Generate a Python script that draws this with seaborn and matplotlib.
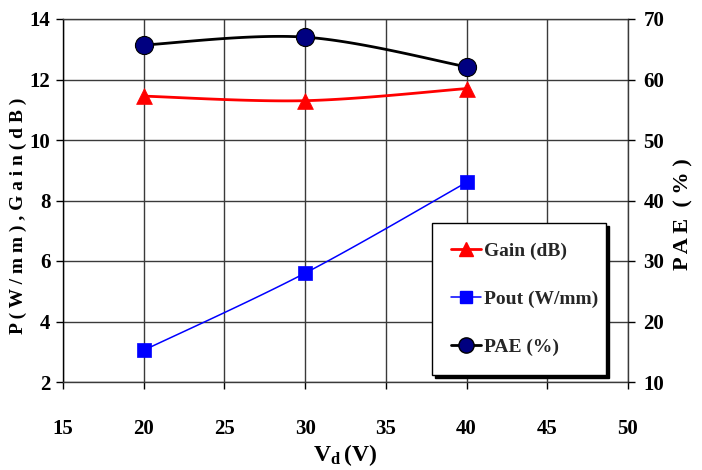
import numpy as np
import pandas as pd
import matplotlib
matplotlib.use("Agg")
import matplotlib.pyplot as plt
from matplotlib.lines import Line2D
import seaborn as sns

vd = [20, 30, 40]
gain_db = [11.45, 11.3, 11.7]
pout_wmm = [3.05, 5.6, 8.6]
pae_pct = [65.7, 67.0, 62.1]

x_ticks = [15, 20, 25, 30, 35, 40, 45, 50]
left_ticks = [2, 4, 6, 8, 10, 12, 14]
right_ticks = [10, 20, 30, 40, 50, 60, 70]

sns.set_theme(style="white")
plt.rcParams['font.family'] = ['Liberation Serif', 'DejaVu Serif']
plt.rcParams['font.weight'] = 'bold'
plt.rcParams['mathtext.fontset'] = 'custom'
plt.rcParams['mathtext.rm'] = 'Liberation Serif:bold'
plt.rcParams['mathtext.it'] = 'Liberation Serif:bold'
plt.rcParams['mathtext.bf'] = 'Liberation Serif:bold'

df = pd.DataFrame({"Vd": vd, "Gain": gain_db, "Pout": pout_wmm, "PAE": pae_pct})

fig = plt.figure(figsize=(7.02, 4.70), dpi=100)
ax = fig.add_axes([63/702, 88/470, 565/702, 363/470])
ax2 = ax.twinx()

XL = (15, 50)
YL = (2, 14)
YR = (10, 70)
GRID = '#3a3a3a'


def smooth(xs, ys, xlim, ylim, n=40):
    # Bezier smoothing in normalized coordinates (spreadsheet style)
    px = (np.asarray(xs, float) - xlim[0]) / (xlim[1] - xlim[0])
    py = (np.asarray(ys, float) - ylim[0]) / (ylim[1] - ylim[0])
    P = np.column_stack([px, py])
    out = []
    m = len(P)
    for i in range(m - 1):
        p0 = P[i - 1] if i > 0 else P[i]
        p1 = P[i]
        p2 = P[i + 1]
        p3 = P[i + 2] if i + 2 < m else P[i + 1]
        c1 = p1 + (p2 - p0) / 6
        c2 = p2 - (p3 - p1) / 6
        t = np.linspace(0, 1, n)[:, None]
        seg = ((1 - t) ** 3) * p1 + 3 * ((1 - t) ** 2) * t * c1 + 3 * (1 - t) * t ** 2 * c2 + t ** 3 * p2
        out.append(seg if i == 0 else seg[1:])
    S = np.vstack(out)
    return (S[:, 0] * (xlim[1] - xlim[0]) + xlim[0],
            S[:, 1] * (ylim[1] - ylim[0]) + ylim[0])


ax.set_xlim(*XL)
ax.set_ylim(*YL)
ax2.set_ylim(*YR)
ax.set_xticks(x_ticks)
ax.set_yticks(left_ticks)
ax2.set_yticks(right_ticks)
ax.grid(True, color=GRID, linewidth=1.0)
ax2.grid(False)
ax.set_axisbelow(True)

# Gain
gx, gy = smooth(vd, gain_db, XL, YL)
ax.plot(gx, gy, color='#ff0000', linewidth=2.0, zorder=3)
sns.scatterplot(data=df, x="Vd", y="Gain", ax=ax, marker='^', s=130, color='#ff0000',
                edgecolor='#ff0000', linewidth=0.5, zorder=4, legend=False)

# Pout
px_, py_ = smooth(vd, pout_wmm, XL, YL)
ax.plot(px_, py_, color='#0000ff', linewidth=1.1, zorder=3)
sns.scatterplot(data=df, x="Vd", y="Pout", ax=ax, marker='s', s=100, color='#0000ff',
                edgecolor='#0000ff', linewidth=0.5, zorder=4, legend=False)

# PAE
ax_, ay_ = smooth(vd, pae_pct, XL, YR)
ax2.plot(ax_, ay_, color='black', linewidth=2.0, zorder=3)
sns.scatterplot(data=df, x="Vd", y="PAE", ax=ax2, marker='o', s=170, color='#000080',
                edgecolor='black', linewidth=0.8, zorder=4, legend=False)

ax.set_xlabel('')
ax.set_ylabel('')
ax2.set_ylabel('')

for a in (ax, ax2):
    for s in a.spines.values():
        s.set_visible(False)
for name in ('top', 'right', 'bottom'):
    ax.spines[name].set_visible(True)
    ax.spines[name].set_color(GRID)
    ax.spines[name].set_linewidth(1.0)
ax.spines['left'].set_visible(True)
ax.spines['left'].set_color('black')
ax.spines['left'].set_linewidth(1.0)

ax.tick_params(axis='y', which='both', left=True, length=5, width=1, color='black', pad=4, labelsize=15, direction='out')
ax.tick_params(axis='x', which='both', bottom=True, length=5, width=1, color='black', pad=22, labelsize=15, direction='out')
ax2.tick_params(axis='y', which='both', right=True, length=5, width=1, color='black', pad=6, labelsize=15, direction='out')
for lab in ax.get_xticklabels() + ax.get_yticklabels() + ax2.get_yticklabels():
    lab.set_fontweight('bold')
    lab.set_color('black')

fig.text(18/702, 1 - 216/470, 'P ( W / m m ) , G a i n ( d B )', rotation=90,
         ha='center', va='center', fontsize=14, fontweight='bold', color='black')
fig.text(683/702, 1 - 214/470, 'P A E  ( % )', rotation=90,
         ha='center', va='center', fontsize=16, fontweight='bold', color='black')
fig.text(345/702, 1 - 455/470, r'$\mathrm{V_d\,(V)}$',
         ha='center', va='center', fontsize=17, color='black')

handles = [
    Line2D([], [], color='#ff0000', linewidth=2, marker='^', markersize=10, markerfacecolor='#ff0000', markeredgecolor='#ff0000'),
    Line2D([], [], color='#0000ff', linewidth=1.1, marker='s', markersize=8, markerfacecolor='#0000ff', markeredgecolor='#0000ff'),
    Line2D([], [], color='black', linewidth=2, marker='o', markersize=11, markerfacecolor='#000080', markeredgecolor='black'),
]
labels = ['Gain (dB)', 'Pout (W/mm)', 'PAE (%)']
leg = ax2.legend(handles, labels, loc='lower left', bbox_to_anchor=(0.653, 0.019, 0.308, 0.441),
                 mode='expand', frameon=True, fancybox=False, shadow={'color': 'black', 'alpha': 1},
                 prop={'family': 'Liberation Serif', 'weight': 'bold', 'size': 14},
                 handlelength=1.5, handletextpad=0.2, labelspacing=1.55, borderpad=1.0,
                 borderaxespad=0)
leg.get_frame().set_edgecolor('black')
leg.get_frame().set_linewidth(1.0)
leg.get_frame().set_alpha(1)
leg.set_zorder(10)

fig.savefig('out.png', dpi=100)
